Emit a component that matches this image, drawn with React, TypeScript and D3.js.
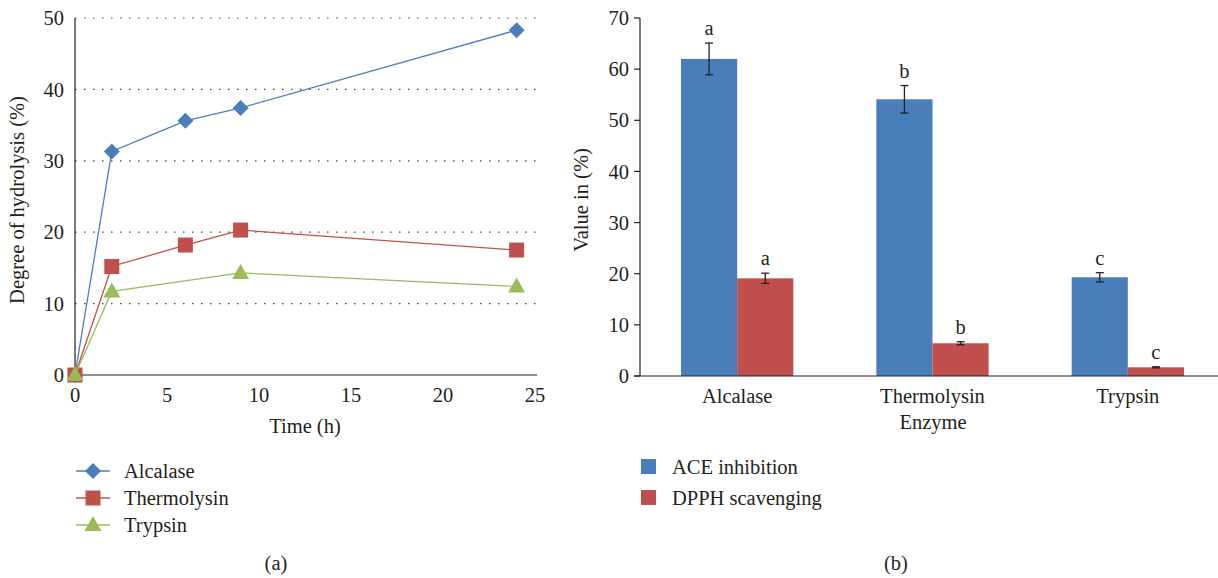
import React from "react";
import * as d3 from "d3";

// (a) degree of hydrolysis over time
const alcalaseTime = [0, 2, 6, 9, 24];
const alcalaseDH = [0, 31.3, 35.6, 37.4, 48.3];
const thermolysinTime = [0, 2, 6, 9, 24];
const thermolysinDH = [0, 15.2, 18.2, 20.3, 17.5];
const trypsinTime = [0, 2, 9, 24];
const trypsinDH = [0, 11.7, 14.3, 12.4];
const timeTicks = [0, 5, 10, 15, 20, 25];
const dhTicks = [0, 10, 20, 30, 40, 50];

// (b) bioactivity per enzyme
const enzymes = ["Alcalase", "Thermolysin", "Trypsin"];
const aceValues = [62.0, 54.1, 19.3];
const aceErrors = [3.1, 2.7, 0.9];
const aceLetters = ["a", "b", "c"];
const dpphValues = [19.1, 6.4, 1.7];
const dpphErrors = [1.0, 0.3, 0.1];
const dpphLetters = ["a", "b", "c"];
const valueTicks = [0, 10, 20, 30, 40, 50, 60, 70];

const FONT = "'Liberation Serif', 'DejaVu Serif', serif";
const FS = 20.5;
const BLUE = "#4a7ebb";
const RED = "#c0504d";
const GREEN = "#9bbb59";
const TEXT = "#231f20";

const Marker = ({ kind, x, y, color }: { kind: string; x: number; y: number; color: string }) => {
  if (kind === "diamond") {
    const r = 8;
    return <path d={`M${x},${y - r}L${x + r},${y}L${x},${y + r}L${x - r},${y}Z`} fill={color} />;
  }
  if (kind === "square") {
    const s = 15;
    return <rect x={x - s / 2} y={y - s / 2} width={s} height={s} fill={color} />;
  }
  const w = 17;
  const h = 15;
  return <path d={`M${x},${y - h * 0.6}L${x + w / 2},${y + h * 0.4}L${x - w / 2},${y + h * 0.4}Z`} fill={color} />;
};

const LineChart = () => {
  const x = d3.scaleLinear().domain([0, 25]).range([75, 535]);
  const y = d3.scaleLinear().domain([0, 50]).range([375, 18]);
  const series = [
    { name: "Alcalase", t: alcalaseTime, v: alcalaseDH, color: BLUE, kind: "diamond" },
    { name: "Thermolysin", t: thermolysinTime, v: thermolysinDH, color: RED, kind: "square" },
    { name: "Trypsin", t: trypsinTime, v: trypsinDH, color: GREEN, kind: "triangle" },
  ];
  const line = d3
    .line<[number, number]>()
    .x(d => x(d[0]))
    .y(d => y(d[1]));

  return (
    <g fontFamily={FONT} fill={TEXT}>
      {dhTicks.filter(d => d > 0).map(d => (
        <line key={d} x1={x(0)} x2={537} y1={y(d)} y2={y(d)} stroke="#444" strokeWidth={1.2} strokeDasharray="1.5 7.5" />
      ))}
      <line x1={x(0)} x2={x(0)} y1={y(50)} y2={y(0)} stroke="#222" strokeWidth={1.2} />
      <line x1={x(0)} x2={537} y1={y(0)} y2={y(0)} stroke="#222" strokeWidth={1.2} />
      {dhTicks.map(d => (
        <text key={d} x={64} y={y(d)} dy="0.35em" textAnchor="end" fontSize={FS}>{d}</text>
      ))}
      {timeTicks.map(d => (
        <text key={d} x={x(d)} y={402} textAnchor="middle" fontSize={FS}>{d}</text>
      ))}
      <text transform="translate(24,200) rotate(-90)" textAnchor="middle" fontSize={FS}>Degree of hydrolysis (%)</text>
      <text x={305} y={433} textAnchor="middle" fontSize={FS}>Time (h)</text>
      {series.map(s => (
        <g key={s.name}>
          <path d={line(s.t.map((t, i) => [t, s.v[i]] as [number, number])) || ""} fill="none" stroke={s.color} strokeWidth={1.3} />
          {s.t.map((t, i) => (
            <Marker key={i} kind={s.kind} x={x(t)} y={y(s.v[i])} color={s.color} />
          ))}
        </g>
      ))}
      {series.map((s, i) => {
        const ly = 471 + i * 27;
        return (
          <g key={s.name}>
            <line x1={76} x2={110} y1={ly} y2={ly} stroke={s.color} strokeWidth={1.3} />
            <Marker kind={s.kind} x={93} y={ly} color={s.color} />
            <text x={124} y={ly} dy="0.35em" fontSize={FS}>{s.name}</text>
          </g>
        );
      })}
      <text x={276} y={570} textAnchor="middle" fontSize={FS}>(a)</text>
    </g>
  );
};

const BarChart = () => {
  const x0 = d3.scaleBand().domain(enzymes).range([640, 1225]).paddingInner(0.425).paddingOuter(0.21);
  const x1 = d3.scaleBand().domain(["ace", "dpph"]).range([0, x0.bandwidth()]);
  const y = d3.scaleLinear().domain([0, 70]).range([376, 18]);
  const groups = [
    { key: "ace", values: aceValues, errors: aceErrors, letters: aceLetters, color: BLUE },
    { key: "dpph", values: dpphValues, errors: dpphErrors, letters: dpphLetters, color: RED },
  ];

  return (
    <g fontFamily={FONT} fill={TEXT}>
      {enzymes.map((e, i) =>
        groups.map(g => {
          const bx = (x0(e) || 0) + (x1(g.key) || 0);
          const cx = bx + x1.bandwidth() / 2;
          const v = g.values[i];
          const err = g.errors[i];
          return (
            <g key={e + g.key}>
              <rect x={bx} y={y(v)} width={x1.bandwidth()} height={y(0) - y(v)} fill={g.color} />
              <line x1={cx} x2={cx} y1={y(v + err)} y2={y(v - err)} stroke="#222" strokeWidth={1.3} />
              <line x1={cx - 4} x2={cx + 4} y1={y(v + err)} y2={y(v + err)} stroke="#222" strokeWidth={1.3} />
              <line x1={cx - 4} x2={cx + 4} y1={y(v - err)} y2={y(v - err)} stroke="#222" strokeWidth={1.3} />
              <text x={cx} y={y(v + err) - 8} textAnchor="middle" fontSize={FS}>{g.letters[i]}</text>
            </g>
          );
        })
      )}
      <line x1={640} x2={640} y1={y(70)} y2={y(0)} stroke="#222" strokeWidth={1.2} />
      <line x1={634} x2={1218} y1={y(0)} y2={y(0)} stroke="#222" strokeWidth={1.2} />
      {valueTicks.map(d => (
        <g key={d}>
          <line x1={634} x2={640} y1={y(d)} y2={y(d)} stroke="#222" strokeWidth={1.2} />
          <text x={629} y={y(d)} dy="0.35em" textAnchor="end" fontSize={FS}>{d}</text>
        </g>
      ))}
      {enzymes.map(e => (
        <text key={e} x={(x0(e) || 0) + x0.bandwidth() / 2} y={403} textAnchor="middle" fontSize={FS}>{e}</text>
      ))}
      <text x={933} y={429} textAnchor="middle" fontSize={FS}>Enzyme</text>
      <text transform="translate(588,200) rotate(-90)" textAnchor="middle" fontSize={FS}>Value in (%)</text>
      {groups.map((g, i) => {
        const ly = 467 + i * 31;
        return (
          <g key={g.key}>
            <rect x={641} y={ly - 8} width={15} height={15} fill={g.color} />
            <text x={672} y={ly} dy="0.35em" fontSize={FS}>{i === 0 ? "ACE inhibition" : "DPPH scavenging"}</text>
          </g>
        );
      })}
      <text x={896} y={570} textAnchor="middle" fontSize={FS}>(b)</text>
    </g>
  );
};

export default function App() {
  return (
    <svg width={1218} height={578} style={{ position: "absolute", left: 0, top: 0, background: "#fff" }}>
      <rect width={1218} height={578} fill="#fff" />
      <LineChart />
      <BarChart />
    </svg>
  );
}
